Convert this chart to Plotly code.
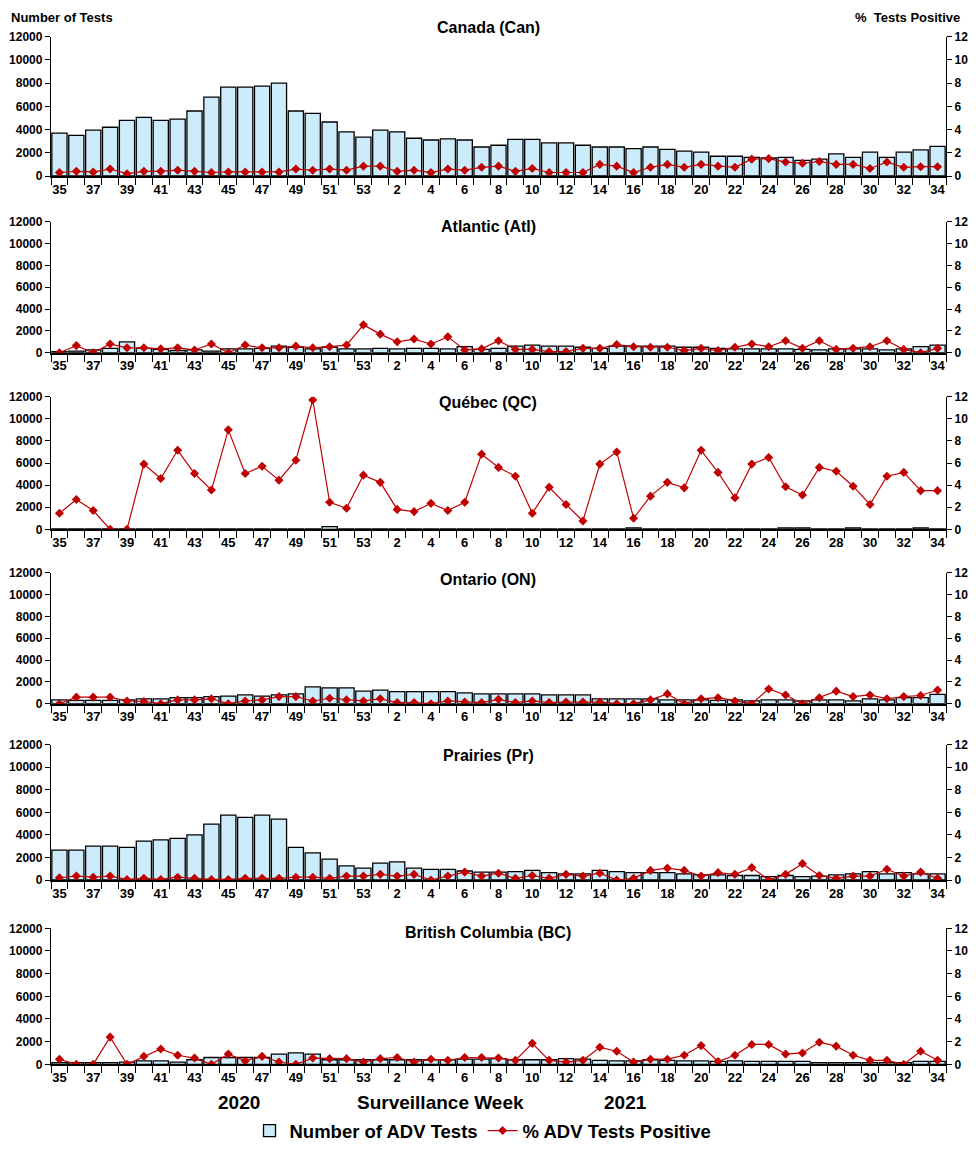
import plotly.graph_objects as go

weeks = [str(w) for w in list(range(35, 54)) + list(range(1, 35))]

panel_titles = ["Canada (Can)", "Atlantic (Atl)", "Québec (QC)", "Ontario (ON)",
                "Prairies (Pr)", "British Columbia (BC)"]

can_tests = [3700, 3500, 3950, 4200, 4800, 5050, 4800, 4900, 5600, 6800, 7650, 7650, 7750, 8000,
             5600, 5400, 4650, 3800, 3350, 3950, 3800, 3250, 3100, 3200, 3100, 2500, 2650, 3150,
             3150, 2850, 2850, 2650, 2500, 2500, 2350, 2500, 2300, 2150, 2050, 1700, 1700, 1600,
             1550, 1600, 1350, 1450, 1900, 1600, 2050, 1600, 2050, 2250, 2550]
can_pos = [0.3, 0.4, 0.35, 0.6, 0.2, 0.4, 0.4, 0.5, 0.4, 0.3, 0.35, 0.35, 0.35, 0.35, 0.6, 0.5,
           0.6, 0.5, 0.85, 0.85, 0.4, 0.5, 0.3, 0.6, 0.5, 0.75, 0.85, 0.4, 0.65, 0.3, 0.3, 0.3,
           1.0, 0.85, 0.3, 0.75, 1.0, 0.75, 1.0, 0.85, 0.75, 1.45, 1.5, 1.2, 1.1, 1.25, 1.0, 1.0,
           0.65, 1.2, 0.75, 0.8, 0.8]

atl_tests = [100, 150, 250, 400, 1000, 400, 300, 200, 250, 150, 350, 350, 400, 600, 500, 350,
             500, 350, 350, 400, 350, 400, 400, 350, 550, 300, 400, 600, 700, 600, 600, 500, 400,
             600, 600, 600, 600, 500, 500, 400, 350, 350, 350, 350, 300, 250, 350, 350, 350, 250,
             350, 550, 700]
atl_pos = [0.0, 0.65, 0.0, 0.8, 0.45, 0.45, 0.35, 0.45, 0.25, 0.8, 0.0, 0.7, 0.45, 0.45, 0.6,
           0.45, 0.55, 0.7, 2.55, 1.7, 1.0, 1.25, 0.8, 1.45, 0.25, 0.35, 1.1, 0.3, 0.3, 0.1, 0.1,
           0.4, 0.4, 0.75, 0.55, 0.5, 0.5, 0.2, 0.4, 0.2, 0.5, 0.8, 0.55, 1.1, 0.4, 1.1, 0.3, 0.4,
           0.55, 1.1, 0.3, 0.0, 0.4]

qc_tests = [40, 40, 40, 40, 40, 40, 40, 40, 40, 40, 40, 40, 40, 40, 40, 40, 250, 40, 40, 40,
            40, 40, 40, 40, 40, 40, 40, 40, 40, 40, 40, 40, 40, 40, 130, 40, 40, 40, 40, 40, 40,
            40, 40, 130, 130, 40, 40, 130, 40, 40, 40, 130, 40]
qc_pos = [1.45, 2.7, 1.7, 0.0, 0.0, 5.9, 4.6, 7.15, 5.05, 3.55, 9.0, 5.05, 5.7, 4.45, 6.25,
          11.7, 2.45, 1.9, 4.9, 4.25, 1.8, 1.6, 2.35, 1.7, 2.45, 6.8, 5.6, 4.8, 1.45, 3.8, 2.25,
          0.75, 5.9, 7.0, 1.0, 3.0, 4.25, 3.75, 7.15, 5.15, 2.85, 5.9, 6.5, 3.85, 3.1, 5.6, 5.25,
          3.9, 2.25, 4.8, 5.15, 3.5, 3.5]

on_tests = [350, 300, 300, 300, 350, 450, 450, 550, 550, 650, 700, 800, 700, 800, 900, 1550,
            1450, 1450, 1150, 1250, 1100, 1100, 1100, 1100, 1000, 900, 900, 900, 900, 800, 800,
            800, 450, 450, 450, 450, 350, 350, 350, 300, 350, 250, 350, 350, 250, 350, 350, 250,
            450, 350, 550, 550, 850]
on_pos = [0.0, 0.6, 0.6, 0.6, 0.25, 0.2, 0.0, 0.35, 0.35, 0.45, 0.0, 0.25, 0.35, 0.65, 0.65,
          0.25, 0.5, 0.35, 0.25, 0.45, 0.1, 0.1, 0.0, 0.25, 0.15, 0.1, 0.4, 0.1, 0.25, 0.1, 0.15,
          0.15, 0.15, 0.0, 0.0, 0.35, 0.9, 0.0, 0.45, 0.55, 0.25, 0.0, 1.35, 0.8, 0.0, 0.55, 1.15,
          0.65, 0.8, 0.45, 0.65, 0.75, 1.25]

pr_tests = [2650, 2650, 3000, 3000, 2900, 3450, 3550, 3700, 4000, 4950, 5750, 5550, 5750, 5400,
            2900, 2400, 1850, 1250, 1050, 1500, 1600, 1050, 950, 950, 800, 700, 700, 750, 850,
            650, 550, 550, 850, 750, 650, 650, 650, 550, 450, 450, 400, 400, 300, 400, 300, 350,
            450, 550, 750, 550, 650, 550, 550]
pr_pos = [0.2, 0.35, 0.25, 0.35, 0.05, 0.15, 0.05, 0.25, 0.15, 0.05, 0.05, 0.15, 0.15, 0.15,
          0.25, 0.25, 0.15, 0.35, 0.35, 0.5, 0.35, 0.5, 0.0, 0.35, 0.7, 0.35, 0.6, 0.15, 0.4,
          0.15, 0.5, 0.35, 0.6, 0.0, 0.15, 0.85, 1.05, 0.85, 0.35, 0.65, 0.5, 1.1, 0.0, 0.5, 1.45,
          0.4, 0.15, 0.35, 0.35, 0.95, 0.35, 0.7, 0.15]

bc_tests = [150, 150, 150, 150, 200, 300, 300, 200, 400, 600, 600, 600, 600, 900, 1000, 900,
            400, 400, 400, 400, 400, 400, 400, 400, 450, 450, 500, 400, 400, 400, 500, 450, 350,
            300, 300, 400, 350, 300, 300, 250, 300, 250, 250, 250, 250, 150, 150, 150, 150, 150,
            150, 250, 250]
bc_pos = [0.45, 0.0, 0.0, 2.4, 0.0, 0.7, 1.35, 0.8, 0.55, 0.0, 0.9, 0.3, 0.7, 0.2, 0.0, 0.55,
          0.5, 0.5, 0.2, 0.5, 0.6, 0.2, 0.45, 0.35, 0.6, 0.6, 0.55, 0.35, 1.85, 0.35, 0.2, 0.35,
          1.5, 1.15, 0.2, 0.45, 0.45, 0.8, 1.65, 0.25, 0.8, 1.75, 1.75, 0.9, 1.0, 1.95, 1.6, 0.8,
          0.35, 0.35, 0.0, 1.15, 0.35]

tests = [can_tests, atl_tests, qc_tests, on_tests, pr_tests, bc_tests]
positives = [can_pos, atl_pos, qc_pos, on_pos, pr_pos, bc_pos]

# page has an 8px body margin: figure occupies 960x1136 starting at (8, 8)
OFF = 8
W, H = 976 - 2 * OFF, 1152 - 2 * OFF
BAR_FILL = "#CCEBFB"
RED = "#C00000"
FONT = "Liberation Sans"


def px(x):
    return (x - OFF) / W


def py(y):
    return 1 - (y - OFF) / H


# pixel geometry of each panel in the screenshot (top, bottom of plot area)
panels_px = [(36.7, 176), (221.7, 352.7), (396.7, 529.3), (572.7, 703.7), (744.7, 880), (928.3, 1064.3)]
title_y_px = [28, 227, 403, 579, 755, 932]
x_left, x_right = 51, 946

fig = go.Figure()
idx = list(range(len(weeks)))

layout = dict(
    width=W, height=H,
    margin=dict(l=0, r=0, t=0, b=0, autoexpand=False),
    paper_bgcolor="white", plot_bgcolor="white",
    font=dict(family=FONT, size=13, color="black", weight="bold"),
    bargap=0.1,
    showlegend=True,
    legend=dict(orientation="h", x=px(483), xanchor="center", y=py(1131), yanchor="middle",
                font=dict(size=18.5, family=FONT, weight="bold"), itemwidth=30,
                traceorder="normal"),
)

annotations = []
label_vals = [i for i in idx if i % 2 == 0]
label_text = [weeks[i] for i in label_vals]

for p in range(6):
    n = p + 1
    xa = "x" if n == 1 else f"x{n}"
    ya = f"y{2 * n - 1}" if n > 1 else "y"
    ya2 = f"y{2 * n}"
    top, bot = panels_px[p]
    dom = [py(bot), py(top)]

    fig.add_trace(go.Bar(
        x=idx, y=tests[p], xaxis=xa, yaxis=ya,
        marker=dict(color=BAR_FILL, line=dict(color="black", width=1.3)),
        name="Number of ADV Tests", showlegend=(p == 0), legendgroup="bar",
        hoverinfo="skip"))
    fig.add_trace(go.Scatter(
        x=idx, y=positives[p], xaxis=xa, yaxis=ya2, mode="lines+markers",
        line=dict(color=RED, width=1.2),
        marker=dict(symbol="diamond", size=7, color=RED),
        name="% ADV Tests Positive", showlegend=(p == 0), legendgroup="line",
        hoverinfo="skip"))

    xkey = "xaxis" if n == 1 else f"xaxis{n}"
    ykey = "yaxis" if n == 1 else f"yaxis{2 * n - 1}"
    y2key = f"yaxis{2 * n}"
    layout[xkey] = dict(
        domain=[px(x_left), px(x_right)], anchor=ya, automargin=False,
        range=[-0.5, len(weeks) - 0.5],
        tickmode="array", tickvals=label_vals, ticktext=label_text,
        ticks="", ticklen=0, showgrid=False, zeroline=False,
        showline=True, linecolor="black", linewidth=2.2,
        tickfont=dict(size=13, family=FONT, weight="bold"),
        minor=dict(tickmode="array", tickvals=[i - 0.5 for i in range(len(weeks) + 1)],
                   ticks="outside", ticklen=7, tickcolor="black", tickwidth=1.3, showgrid=False),
        fixedrange=True,
    )
    layout[ykey] = dict(
        domain=dom, anchor=xa, automargin=False, range=[0, 12000],
        tickmode="linear", tick0=0, dtick=2000, tickformat="d",
        ticks="outside", ticklen=5, tickcolor="black", tickwidth=1.3,
        showline=True, linecolor="black", linewidth=1.3, showgrid=False, zeroline=False,
        tickfont=dict(size=12, family=FONT, weight="bold"),
    )
    layout[y2key] = dict(
        overlaying=ya, anchor=xa, side="right", automargin=False, range=[0, 12],
        tickmode="linear", tick0=0, dtick=2, tickformat="d",
        ticks="outside", ticklen=5, tickcolor="black", tickwidth=1.3,
        showline=True, linecolor="black", linewidth=1.3, showgrid=False, zeroline=False,
        tickfont=dict(size=12, family=FONT, weight="bold"),
    )
    annotations.append(dict(
        text=panel_titles[p], xref="paper", yref="paper", x=px(488), y=py(title_y_px[p]),
        xanchor="center", yanchor="middle", showarrow=False,
        font=dict(size=16, family=FONT, weight="bold")))

annotations += [
    dict(text="Number of Tests", xref="paper", yref="paper", x=px(9), y=py(17),
         xanchor="left", yanchor="middle", showarrow=False,
         font=dict(size=13, family=FONT, weight="bold")),
    dict(text="%  Tests Positive", xref="paper", yref="paper", x=px(962), y=py(17),
         xanchor="right", yanchor="middle", showarrow=False,
         font=dict(size=13, family=FONT, weight="bold")),
    dict(text="2020", xref="paper", yref="paper", x=px(239), y=py(1102),
         xanchor="center", yanchor="middle", showarrow=False,
         font=dict(size=19, family=FONT, weight="bold")),
    dict(text="Surveillance Week", xref="paper", yref="paper", x=px(440), y=py(1102),
         xanchor="center", yanchor="middle", showarrow=False,
         font=dict(size=19, family=FONT, weight="bold")),
    dict(text="2021", xref="paper", yref="paper", x=px(625), y=py(1102),
         xanchor="center", yanchor="middle", showarrow=False,
         font=dict(size=19, family=FONT, weight="bold")),
]
layout["annotations"] = annotations

fig.update_layout(**layout)
fig.write_html("out.html")
